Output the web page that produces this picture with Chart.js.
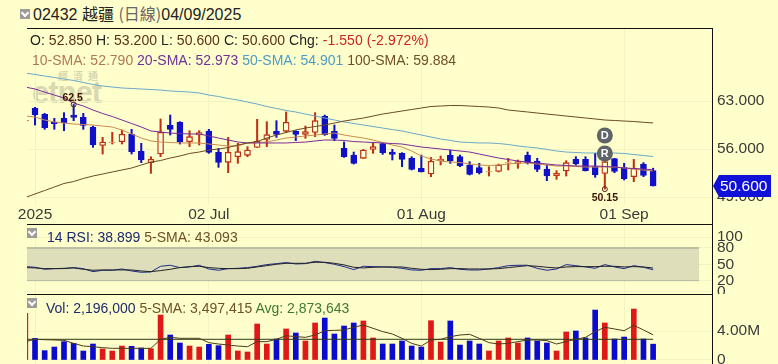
<!DOCTYPE html>
<html><head><meta charset="utf-8">
<script src="https://cdn.jsdelivr.net/npm/chart.js@4"></script>
<style>
html,body{margin:0;padding:0;background:#FFFFCC;overflow:hidden}
#wrap{position:relative;width:778px;height:364px;overflow:hidden;font-family:'Liberation Sans',Arial,sans-serif;background:#FFFFCC}
canvas{position:absolute;left:0}
.t{position:absolute;white-space:nowrap;line-height:16px;font-size:14px}
.rule{position:absolute;background:#111}
.ic{position:absolute;width:10px;height:10px;background:#9c9c98}
.ic:after{content:"";position:absolute;left:2px;top:1px;width:4px;height:4px;border-right:2px solid #fff;border-bottom:2px solid #fff;transform:rotate(45deg)}
</style></head><body>
<div id="wrap">
 <div class="t" style="left:58px;top:68px;font-size:10px;font-weight:bold;color:#d6d6ae;letter-spacing:5px;font-family:'Noto Sans CJK TC'">經濟通</div>
 <div class="t" style="left:32px;top:78px;font-size:31px;line-height:30px;font-weight:bold;color:#d8d8b2;letter-spacing:-1px">etnet</div>
 <canvas id="cMain" width="778" height="196" style="top:28px"></canvas>
 <canvas id="cRsi" width="778" height="70" style="top:224px"></canvas>
 <canvas id="cVol" width="778" height="70" style="top:294px"></canvas>
 <div class="rule" style="left:27px;top:28px;width:686px;height:1px"></div>
 <div class="rule" style="left:27px;top:224px;width:686px;height:1px"></div>
 <div class="rule" style="left:27px;top:294px;width:686px;height:1px"></div>
 <div class="rule" style="left:712px;top:28px;width:1px;height:336px"></div>
 <div class="ic" style="left:20px;top:9px"></div>
 <div class="t" style="left:33px;top:5px;font-size:16px;color:#222">02432 <span style="font-family:'Noto Sans CJK TC'">越疆</span> <span style="color:#666"><span style="font-family:'Noto Sans CJK TC'">(日線)</span></span><span style="color:#222">04/09/2025</span></div>
 <div class="t" style="left:30px;top:32px;letter-spacing:0.05px"><span style="color:#222">O:</span> <span style="color:#5a3018">52.850</span> <span style="color:#222">H:</span> <span style="color:#5a3018">53.200</span> <span style="color:#222">L:</span> <span style="color:#5a3018">50.600</span> <span style="color:#222">C:</span> <span style="color:#5a3018">50.600</span> <span style="color:#222">Chg:</span> <span style="color:#cc2222">-1.550 (-2.972%)</span></div>
 <div class="t" style="left:32px;top:52px"><span style="color:#b07858">10-SMA: 52.790</span> <span style="color:#70309a">20-SMA: 52.973</span> <span style="color:#4c9cc4">50-SMA: 54.901</span> <span style="color:#6e5026">100-SMA: 59.884</span></div>
 <div class="ic" style="left:27px;top:228px"></div>
 <div class="t" style="left:47px;top:229px"><span style="color:#1c2a70">14 RSI: 38.899</span> <span style="color:#6e5026">5-SMA: 43.093</span></div>
 <div class="ic" style="left:27px;top:298px"></div>
 <div class="t" style="left:46px;top:300px"><span style="color:#1c2a70">Vol: 2,196,000</span> <span style="color:#6e5026">5-SMA: 3,497,415</span> <span style="color:#3f7a30">Avg: 2,873,643</span></div>
</div>
<script>
const tickIdx=[1,19,41,62];
const tickLabels=['2025','02 Jul','01 Aug','01 Sep'];
const priceTicks=[49,56,63];
const rsiTicks=[0,20,50,80,100];
const volTicks=[0,4];
const opens=[60.1,61.93,61.06,59.94,60.47,60.96,60.62,59.21,56.53,56.97,57.07,58.19,55.66,54.01,55.27,59.45,59.89,57.07,58.04,58.63,55.51,54.06,54.88,55.08,56.24,57.41,58.58,58.58,58.58,58.14,58.43,60.77,58.58,56.10,55.12,54.64,55.95,56.78,55.56,55.37,54.69,53.18,52.35,54.25,55.08,54.88,53.67,53.28,52.68,52.74,54.04,53.91,55.08,54.25,53.08,52.11,52.79,54.49,54.49,53.42,52.45,54.59,53.28,51.97,53.81,52.85];
const highs=[61.44,62.08,61.20,60.47,61.30,62.5,61.20,59.35,57.70,58.43,58.77,58.87,56.83,54.88,60.38,60.96,59.99,58.67,58.67,58.87,56.10,57.70,56.83,56.34,60.33,59.99,60.13,61.40,58.67,59.35,61.30,60.96,59.50,57.02,55.56,55.95,56.92,56.83,55.95,55.47,54.88,55.12,54.78,54.98,55.85,55.12,54.15,53.91,53.42,53.81,54.64,54.40,55.56,54.64,53.67,52.84,54.30,54.88,54.88,55.37,54.64,54.64,53.91,54.49,54.01,53.20];
const lows=[58.77,59.50,58.87,58.87,58.67,60.13,58.87,56.24,55.27,56.73,56.73,55.27,54.01,52.45,54.88,58.04,56.73,56.34,56.58,55.37,53.33,52.55,53.91,54.88,56.24,56.34,57.70,58.38,57.22,57.56,57.80,57.99,57.22,54.78,53.81,54.64,55.37,55.22,54.40,53.42,52.94,52.65,51.97,53.67,53.91,53.42,52.21,52.35,52.06,52.65,52.94,53.18,53.81,52.70,51.38,51.58,52.06,53.67,52.79,51.87,50.15,52.55,51.48,51.24,51.97,50.60];
const closes=[60.2,60.96,59.11,59.69,59.84,60.62,59.45,56.63,57.02,57.02,58.14,55.61,54.40,54.49,58.43,58.87,57.02,57.80,58.38,55.51,54.06,55.51,55.61,55.85,57.12,58.09,58.14,59.89,58.14,58.53,60.13,58.09,57.56,54.88,53.91,55.85,56.34,55.47,55.22,54.49,53.03,52.65,54.20,54.49,54.30,53.57,52.31,52.55,52.70,53.67,54.06,54.15,54.01,53.03,52.06,52.45,54.01,53.81,52.84,52.21,54.15,52.74,51.67,53.18,52.16,50.60];
const sma10=[60.81,60.67,60.23,59.94,59.79,59.65,59.57,59.50,59.35,59.21,58.77,58.19,57.60,57.17,57.02,56.95,56.88,56.88,56.88,56.73,56.58,56.44,56.44,56.88,56.95,57.02,57.31,57.60,57.75,57.90,58.04,58.19,58.33,58.04,57.82,57.60,57.31,56.95,56.58,56.29,55.71,54.98,54.54,54.25,54.10,54.03,53.81,53.67,53.60,53.67,53.81,53.96,53.96,53.81,53.67,53.52,53.52,53.45,53.37,53.37,53.37,53.37,53.23,53.08,52.94,52.79];
const sma20=[65.04,64.75,64.31,63.87,63.44,62.71,62.27,61.69,61.18,60.74,60.23,59.72,59.21,58.63,58.48,58.33,58.26,58.19,58.19,57.90,57.60,57.31,57.02,56.88,56.88,56.88,56.88,56.88,56.95,57.02,57.17,57.31,57.31,57.24,57.09,57.02,56.95,56.88,56.80,56.73,56.51,56.29,56.15,56.00,55.85,55.71,55.56,55.27,54.98,54.69,54.47,54.25,54.10,53.96,53.81,53.67,53.60,53.52,53.52,53.52,53.45,53.37,53.23,53.16,53.08,52.97];
const sma50=[67.08,66.87,66.65,66.43,66.21,65.99,65.70,65.41,65.19,65.04,64.90,64.83,64.75,64.68,64.60,64.46,64.39,64.31,64.17,63.87,63.66,63.37,63.15,62.85,62.56,62.20,61.91,61.62,61.40,61.10,60.81,60.52,60.23,59.94,59.72,59.50,59.28,59.06,58.84,58.63,58.33,58.04,57.75,57.46,57.24,57.02,56.95,56.88,56.88,56.80,56.66,56.44,56.29,56.15,55.93,55.71,55.56,55.49,55.42,55.42,55.42,55.42,55.35,55.20,55.05,54.90];
const sma100=[48.93,49.44,49.95,50.46,50.97,51.26,51.70,52.06,52.35,52.65,52.94,53.23,53.67,54.10,54.32,54.69,54.98,55.35,55.56,55.85,56.00,56.22,56.58,56.88,57.09,57.60,58.04,58.41,58.77,59.06,59.28,59.50,59.79,60.08,60.30,60.52,60.81,61.10,61.32,61.54,61.76,61.98,62.20,62.27,62.34,62.34,62.27,62.20,62.12,61.98,61.69,61.54,61.40,61.25,61.10,60.96,60.81,60.67,60.52,60.38,60.23,60.16,60.08,60.01,59.90,59.80];
const rsi=[45.7,44.5,40.8,42,42,43.9,42,36.5,39,39,41.4,37.7,35.3,35.9,46.3,48.2,43.9,45.1,48.2,41.4,39,42,42.6,43.9,46.3,49.4,51.2,53.1,50.6,51.2,55.5,53.1,50,45.7,40.2,46.3,45.7,45.1,44.5,42.6,39.6,39,42,42,43.9,40.8,39.6,39.6,41.4,43.9,47.5,48.2,48.2,42.6,39,41.4,49.4,47.5,45.1,42.6,49.4,45.1,42,47.5,44.5,40];
const rsiSma=[43.9,43.3,42,42,42.6,43.3,40.8,39,39.6,39.6,39.6,39.6,37.7,36.5,38.4,40.8,43.9,45.7,46.3,43.9,42.6,42,42,42.6,45.1,47.5,50,51.8,51.8,51.8,53.7,53.7,51.8,48.8,44.5,43.3,44.5,45.1,45.1,45.1,42.6,40.8,40.2,40.8,42,42,41.4,41.4,41.4,42,43.9,45.7,47.5,46.3,44.5,43.3,45.1,45.7,45.7,45.7,46.3,46.3,45.1,45.7,45.1,43.09];
const volume=[6.48,3.0,1.3,1.8,2.55,2.31,1.25,2.22,1.53,1.25,1.94,1.9,1.67,1.57,6.25,3.47,2.36,1.94,1.8,2.18,1.99,3.47,1.25,1.11,5.0,2.22,2.92,4.31,3.75,2.64,5.14,5.83,3.61,4.72,5.14,5.42,3.06,2.22,2.22,2.64,1.94,1.8,5.46,2.5,5.42,2.08,2.64,2.22,1.25,2.64,3.06,2.36,3.06,2.64,2.36,1.25,3.89,4.03,3.06,6.94,5.14,2.92,3.19,7.08,2.92,2.2];
const volSma=[2.55,2.87,2.82,2.78,2.73,2.31,1.94,1.85,1.71,1.62,1.62,1.62,1.62,1.62,2.87,3.15,3.01,3.01,3.01,2.41,2.22,2.08,1.94,1.85,2.55,2.55,2.87,3.38,3.24,3.15,3.47,4.07,4.12,4.17,4.54,4.86,4.40,3.94,3.61,3.01,2.31,1.94,2.78,2.87,3.24,3.47,3.56,3.01,2.41,2.22,2.31,2.55,2.78,2.78,2.69,2.22,2.55,2.87,3.15,3.94,4.54,4.31,4.07,4.81,4.17,3.50];
const volUp=[1,0,0,0,0,0,0,0,1,1,1,0,0,1,1,0,0,1,1,0,0,1,1,1,1,1,0,1,0,1,1,0,0,0,0,1,1,0,0,0,0,0,1,1,0,0,0,0,1,1,1,1,0,0,0,1,1,0,0,0,1,0,0,1,0,0];
const volAvg=2.873643;
const lastClose=50.6;
const hiMark={i:5,v:62.5,label:'62.5'};
const loMark={i:60,v:50.15,label:'50.15'};
const badges=[{i:60,v:57.97,label:'D'},{i:60,v:55.35,label:'R'}];
const xMin=0.17,xMax=71.2,bandEnd=69.76;
const FONT="'Liberation Sans',Arial,sans-serif";
const BLUE='#1010C8',RED='#C03014',GRID='#F2F2C2',TICK='#3a3a3a';

function line(arr,color,w){return {type:'line',data:arr.map((y,i)=>({x:i,y})),borderColor:color,borderWidth:w||1,pointRadius:0,tension:0,order:0,clip:0}}
function base(tickList,cb,min,max,opts){
 opts=opts||{};
 return {
  responsive:false,animation:false,events:[],
  layout:{autoPadding:false,padding:{left:27,right:0,top:0,bottom:0}},
  plugins:{legend:{display:false},tooltip:{enabled:false},title:{display:false}},
  scales:{
   x:{type:'linear',min:xMin,max:xMax,offset:false,border:{display:false},
      grid:{color:GRID,drawTicks:false,offset:false},
      afterBuildTicks:s=>{s.ticks=tickIdx.map(v=>({value:v}))},
      afterFit:s=>{s.height=opts.xh||0;s.paddingLeft=0;s.paddingRight=0},
      ticks:{display:!!opts.xlabels,autoSkip:false,maxRotation:0,padding:1,color:TICK,font:{family:FONT,size:15.5},
        callback:v=>tickLabels[tickIdx.indexOf(v)]}},
   y:{position:'right',min,max,border:{display:false},
      grid:{color:GRID,drawTicks:false},
      afterBuildTicks:s=>{s.ticks=tickList.map(v=>({value:v}))},
      afterFit:s=>{s.width=65;s.paddingTop=0;s.paddingBottom=0},
      ticks:{padding:4,autoSkip:false,color:TICK,font:{family:FONT,size:15.5},callback:cb}}
  }
 };
}
const annot={id:'annot',afterDraw(c){
 const g=c.ctx,xs=c.scales.x,ys=c.scales.y;
 g.save();
 [hiMark,loMark].forEach((m,k)=>{
  const x=xs.getPixelForValue(m.i),y=ys.getPixelForValue(m.v);
  g.beginPath();g.arc(x,y,2.5,0,Math.PI*2);g.strokeStyle='#5a2010';g.lineWidth=1;g.stroke();
  g.font="bold 10.5px "+FONT;g.fillStyle='#401000';g.textAlign='center';g.textBaseline='middle';
  g.fillText(m.label,x-(k?0:1),y+(k?8.5:-6.5));
 });
 badges.forEach(b=>{
  const x=xs.getPixelForValue(b.i),y=ys.getPixelForValue(b.v);
  g.beginPath();g.arc(x,y,8,0,Math.PI*2);g.fillStyle='#5f6468';g.fill();
  g.font="bold 11px "+FONT;g.fillStyle='#fff';g.textAlign='center';g.textBaseline='middle';
  g.fillText(b.label,x,y+0.5);
 });
 const ty=ys.getPixelForValue(lastClose);
 g.beginPath();g.moveTo(713,ty);g.lineTo(719,ty-11);g.lineTo(771,ty-11);g.lineTo(771,ty+11);g.lineTo(719,ty+11);g.closePath();
 g.fillStyle='#1010D8';g.fill();
 g.font="15.5px "+FONT;g.fillStyle='#fff';g.textAlign='left';g.textBaseline='middle';
 g.fillText(lastClose.toFixed(3),720,ty+0.5);
 g.restore();
}};
const isUp=i=>closes[i]>=opens[i];
new Chart(document.getElementById('cMain'),{type:'bar',plugins:[annot],data:{datasets:[
 line(sma100,'#6a4a22'),line(sma50,'#6aa8c8'),line(sma20,'#7a2a9a'),line(sma10,'#c88a50'),
 {data:opens.map((o,i)=>({x:i,y:[o,closes[i]]})),grouped:false,barThickness:6,borderWidth:1.3,borderSkipped:false,order:1,clip:0,
  backgroundColor:opens.map((o,i)=>isUp(i)?'#FFFFD8':BLUE),borderColor:opens.map((o,i)=>isUp(i)?RED:BLUE)},
 {data:lows.map((l,i)=>({x:i,y:[l,highs[i]]})),grouped:false,barThickness:1.4,order:2,clip:0,
  backgroundColor:lows.map((l,i)=>isUp(i)?RED:BLUE)}
]},options:base(priceTicks,v=>v.toFixed(3),47.98,73.65,{xh:20,xlabels:true})});

function flat(v,color){return {type:'line',data:[{x:xMin,y:v},{x:bandEnd,y:v}],borderColor:color,borderWidth:1,pointRadius:0,order:3,clip:0}}
const bandTop=flat(80,'#8f9c8c');bandTop.fill='+1';bandTop.backgroundColor='#DEDEBA';
new Chart(document.getElementById('cRsi'),{type:'line',data:{datasets:[
 line(rsiSma,'#222'),line(rsi,'#1c2a90'),bandTop,flat(20,'#8f9c8c'),flat(50,'#8f9c8c')
]},options:base(rsiTicks,v=>String(v),-4.6,124)});

new Chart(document.getElementById('cVol'),{type:'bar',data:{datasets:[
 line(volSma,'#4a3a18'),
 {type:'line',data:[{x:xMin,y:volAvg},{x:65,y:volAvg}],borderColor:'#2a3a18',borderWidth:1,pointRadius:0,order:0,clip:0},
 {data:volume.map((y,i)=>({x:i,y})),barThickness:5,order:1,clip:0,grouped:false,
  backgroundColor:volUp.map(u=>u?'#E01818':'#0A0AD0')}
]},options:base(volTicks,v=>v?v.toFixed(2)+'M':'0',-0.556,9.167)});
</script>
</body></html>
